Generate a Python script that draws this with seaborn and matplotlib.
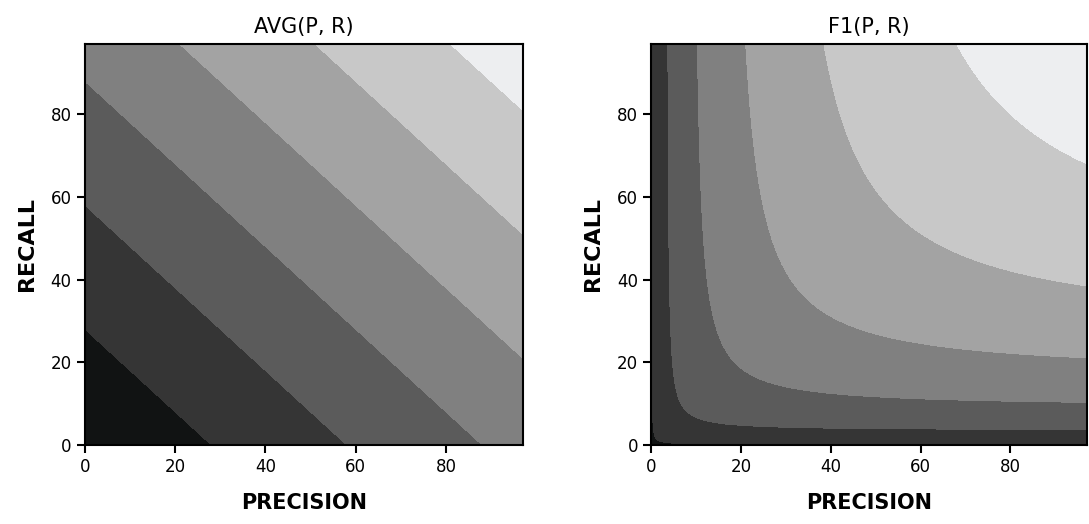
import numpy as np
import matplotlib
matplotlib.use("Agg")
import matplotlib.pyplot as plt
import seaborn as sns

# precision / recall grid (fractions 0.01 .. 0.98), plotted on index axes
precision = np.arange(0.01, 0.99, 0.01)
recall = np.arange(0.01, 0.99, 0.01)

avg_levels = [0.0, 0.15, 0.30, 0.45, 0.60, 0.75, 0.90, 1.05]
f1_levels = [0.0, 0.0225, 0.09, 0.2025, 0.36, 0.5625, 0.81, 1.0]
band_colors = ["#111313", "#353535", "#5b5b5b", "#808080",
               "#a3a3a3", "#c8c8c8", "#edeef0"]
ticks = [0, 20, 40, 60, 80]

P, R = np.meshgrid(precision, recall)
avg = (P + R) / 2
f1 = 2 * P * R / (P + R)

sns.set_theme(style="ticks")
plt.rcParams["font.family"] = ["DejaVu Sans"]
plt.rcParams["text.color"] = "black"
plt.rcParams["axes.labelcolor"] = "black"
plt.rcParams["xtick.color"] = "black"
plt.rcParams["ytick.color"] = "black"

fig = plt.figure(figsize=(10.89, 5.24), dpi=100)
ax1 = fig.add_axes([0.078, 0.151, 0.402, 0.765])
ax2 = fig.add_axes([0.598, 0.151, 0.400, 0.765])

for ax, Z, levels, title in [(ax1, avg, avg_levels, "AVG(P, R)"),
                             (ax2, f1, f1_levels, "F1(P, R)")]:
    ax.contourf(Z, levels=levels, colors=band_colors)
    ax.set_xlim(0, len(precision) - 1)
    ax.set_ylim(0, len(recall) - 1)
    ax.set_xticks(ticks)
    ax.set_yticks(ticks)
    ax.tick_params(labelsize=12, length=6, width=1.5, color="black")
    ax.set_title(title, fontsize=15, pad=8)
    ax.set_xlabel("PRECISION", fontsize=15, fontweight="semibold", labelpad=12)
    ax.set_ylabel("RECALL", fontsize=16, fontweight="bold", labelpad=10)
    for s in ax.spines.values():
        s.set_color("black")
        s.set_linewidth(1.5)

fig.savefig("out.png", dpi=100)
